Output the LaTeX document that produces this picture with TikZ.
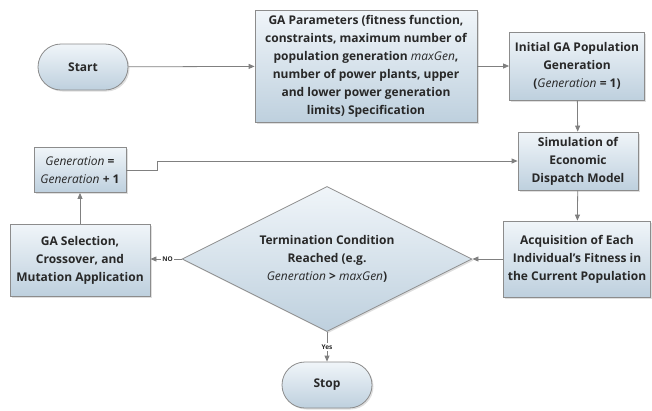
\documentclass[tikz,border=0pt]{standalone}
\usepackage{fontspec}
\setmainfont{Open Sans}
\usetikzlibrary{shapes.geometric,shadows,arrows.meta}
\definecolor{bordergray}{RGB}{140,140,140}
\definecolor{linegray}{RGB}{128,128,128}
\definecolor{fillTop}{RGB}{240,245,249}
\definecolor{fillBot}{RGB}{190,208,222}
\definecolor{textcol}{RGB}{40,40,40}
\tikzset{
  boxbase/.style={draw=bordergray, line width=0.8pt, top color=fillTop, bottom color=fillBot,
    drop shadow={opacity=0.25, shadow xshift=1.5pt, shadow yshift=-1.5pt},
    align=center, font=\bfseries\fontsize{12}{18}\selectfont, text=textcol, inner sep=1pt},
  procbox/.style={boxbase, rectangle},
  termbox/.style={boxbase, rectangle, rounded corners=23pt, minimum width=90pt, minimum height=46pt},
  decbox/.style={boxbase, diamond, aspect=2, minimum width=290pt, minimum height=145pt, inner sep=0pt},
  conn/.style={draw=linegray, line width=0.8pt, -{Triangle[length=6pt,width=5pt]}},
  lbl/.style={font=\bfseries\fontsize{6.5}{7}\selectfont, text=textcol, fill=white, inner sep=1.5pt}
}
\begin{document}
\begin{tikzpicture}[x=1pt,y=-1pt]
\useasboundingbox (0,0) rectangle (652,410);
\node[termbox] (start) at (83,67) {Start};
\node[procbox, minimum width=222pt, minimum height=112pt] (params) at (366,66)
  {GA Parameters (fitness function,\\constraints, maximum number of\\population generation \textmd{\itshape maxGen},\\number of power plants, upper\\and lower power generation\\limits) Specification};
\node[procbox, minimum width=135pt, minimum height=68pt] (init) at (577,66)
  {Initial GA Population\\Generation\\(\textmd{\itshape Generation} = 1)};
\node[procbox, minimum width=120pt, minimum height=58pt] (sim) at (578,161)
  {Simulation of\\Economic\\Dispatch Model};
\node[procbox, minimum width=147pt, minimum height=76pt] (acq) at (577,259)
  {Acquisition of Each\\Individual's Fitness in\\the Current Population};
\node[decbox] (term) at (327,259)
  {Termination Condition\\Reached (e.g.\\\textmd{\itshape Generation} > \textmd{\itshape maxGen})};
\node[procbox, minimum width=140pt, minimum height=72pt] (sel) at (80,260)
  {GA Selection,\\Crossover, and\\Mutation Application};
\node[procbox, minimum width=92pt, minimum height=45pt] (gen) at (80,170)
  {\textmd{\itshape Generation} =\\\textmd{\itshape Generation} + 1};
\node[termbox] (stop) at (327,385) {Stop};
\coordinate (j1) at (157,170);
\coordinate (j2) at (157,161);
\draw[conn] (start) -- (params);
\draw[conn] (params.east |- init.west) -- (init.west);
\draw[conn] (init) -- (sim);
\draw[conn] (sim) -- (acq);
\draw[conn] (acq) -- (term);
\draw[conn] (term.west) -- node[lbl, pos=0.45]{NO} (sel.east |- term.west);
\draw[conn] (sel) -- (gen);
\draw[conn] (gen.east |- j1) -- (j1) -- (j2) -- (sim.west |- j2);
\draw[conn] (term.south) -- node[lbl, pos=0.5]{Yes} (stop.north);
\end{tikzpicture}
\end{document}
